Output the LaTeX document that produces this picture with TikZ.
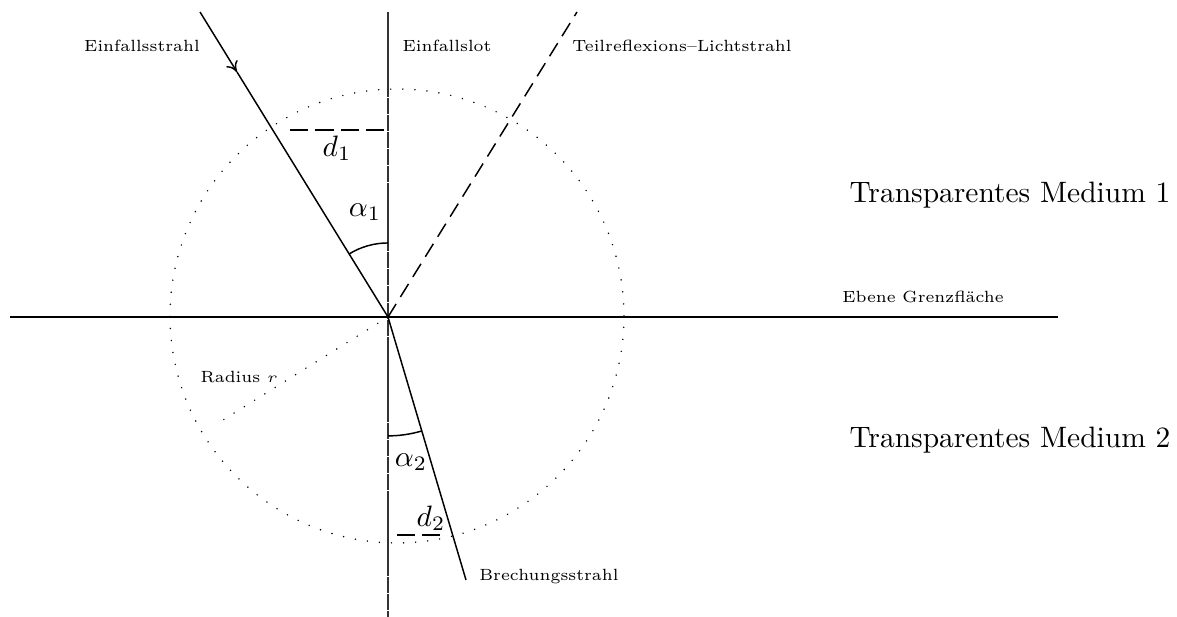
\documentclass[tikz,border=0pt]{standalone}
\usetikzlibrary{arrows.meta}
\begin{document}
\begin{tikzpicture}[x=0.339pt,y=-0.339pt,
 ray/.style={line width=0.5pt},
 lotline/.style={line width=0.65pt, draw=black!80, dash pattern=on 5.6pt off 0.2pt},
 refl/.style={line width=0.5pt, dash pattern=on 5.2pt off 2.8pt},
 dline/.style={line width=0.5pt, dash pattern=on 6.2pt off 2.4pt},
 dotline/.style={line width=0.55pt, line cap=round, dash pattern=on 0pt off 4.1pt},
 small/.style={font=\fontsize{5.5}{6.5}\selectfont, inner sep=0pt},
 big/.style={font=\normalsize, inner sep=0pt}]
\useasboundingbox (0,0) rectangle (1177,617);
\coordinate (O) at (388,317);
\coordinate (inS) at (200,12);
\coordinate (inA) at (237,72);
\coordinate (refE) at (577,12);
\coordinate (brE) at (466,580);
\coordinate (lotT) at (388,12);
\coordinate (lotB) at (388,617);
\coordinate (gL) at (10,317);
\coordinate (gR) at (1058,317);
\coordinate (C) at (397,316);
\coordinate (rE) at (215,425);
\coordinate (d1a) at (290,130);
\coordinate (d1b) at (385,130);
\coordinate (d2a) at (397,535);
\coordinate (d2b) at (440,535);
% circle
\draw[dotline] (C) circle[radius=76.95pt];
% lines
\draw[lotline] (lotT) -- (lotB);
\draw[ray] (gL) -- (gR);
\draw[ray,-{To[length=3.5pt,width=4.5pt]}] (inS) -- (inA);
\draw[ray] (inA) -- (O);
\draw[refl] (O) -- (refE);
\draw[ray] (O) -- (brE);
\draw[dotline] (O) -- (rE);
\draw[dline] (d1a) -- (d1b);
\draw[dline] (d2a) -- (d2b);
% arcs
\draw[ray] ([yshift=25.1pt]O) arc[start angle=90, end angle=121.6, radius=25.1pt];
\draw[ray] ([yshift=-40.3pt]O) arc[start angle=270, end angle=286.5, radius=40.3pt];
% labels
\node[small] (tin) at (142,46) {Einfallsstrahl};
\node[small] (tlot) at (447,46) {Einfallslot};
\node[small] (trefl) at (682,46) {Teilreflexions--Lichtstrahl};
\node[small] (tgr) at (923,297) {Ebene Grenzfläche};
\node[big] (tm1) at (1010,195) {Transparentes Medium 1};
\node[big] (tm2) at (1010,440) {Transparentes Medium 2};
\node[small] (tbr) at (549,577) {Brechungsstrahl};
\node[small] (trad) at (239,377) {Radius $r$};
\node[big] (td1) at (337,148) {$d_1$};
\node[big] (ta1) at (365,212) {$\alpha_1$};
\node[big] (ta2) at (411,462) {$\alpha_2$};
\node[big] (td2) at (431,518) {$d_2$};
\end{tikzpicture}
\end{document}
